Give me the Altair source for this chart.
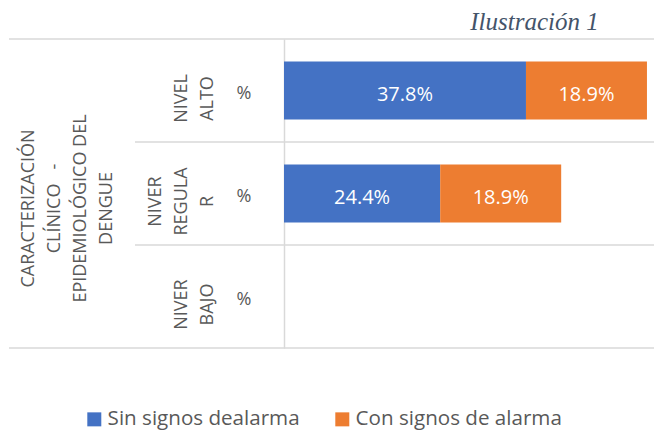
import altair as alt
import pandas as pd

# ---- data ----
levels = ["NIVEL ALTO", "NIVER REGULAR", "NIVER BAJO"]
level_lines = [["NIVEL", "ALTO"], ["NIVER", "REGULA", "R"], ["NIVER", "BAJO"]]
unit_label = "%"
series = ["Sin signos dealarma", "Con signos de alarma"]
sin_signos = [0.378, 0.244, None]
con_signos = [0.189, 0.189, None]
colors = ["#4472C4", "#ED7D31"]
group_lines = ["CARACTERIZACIÓN", "CLÍNICO\u00a0\u00a0\u00a0-", "EPIDEMIOLÓGICO DEL", "DENGUE"]
title_text = "Ilustración 1"

rows = []
for i, lv in enumerate(levels):
    for j, (s, vals) in enumerate(zip(series, [sin_signos, con_signos])):
        if vals[i] is not None:
            rows.append({"level": lv, "serie": s, "order": j, "value": vals[i]})
bars_df = pd.DataFrame(rows)

# lines of each category label are stacked so that the last line is aligned
max_lines = max(len(l) for l in level_lines)
labels_df = pd.DataFrame({
    "level": levels,
    "label": ["\n" * (max_lines - len(l)) + "\n".join(l) for l in level_lines],
    "unit": [unit_label] * len(levels),
})
group_df = pd.DataFrame({"level": [levels[1]], "label": ["\n".join(group_lines)]})
edge_top = pd.DataFrame({"level": [levels[0]]})
edge_bottom = pd.DataFrame({"level": [levels[-1]]})
seps = pd.DataFrame({"level": levels[1:]})

GRID = "#D9D9D9"
TXT = "#595959"
FONT = "Open Sans"

yscale = alt.Scale(domain=levels, paddingInner=0, paddingOuter=0)
yaxis = alt.Axis(title=None, labels=False, ticks=False, grid=False, domain=True,
                 domainColor=GRID, domainWidth=1.5)
xscale = alt.Scale(domain=[0, 0.578])


def Y(band=None):
    if band is None:
        return alt.Y("level:N", scale=yscale, axis=yaxis)
    return alt.Y("level:N", scale=yscale, axis=yaxis, bandPosition=band)


rule_top = alt.Chart(edge_top).mark_rule(color=GRID, strokeWidth=1.5).encode(
    y=Y(0), x=alt.value(-275), x2=alt.value(370))
rule_bottom = alt.Chart(edge_bottom).mark_rule(color=GRID, strokeWidth=1.5).encode(
    y=Y(1), x=alt.value(-275), x2=alt.value(370))
rule_seps = alt.Chart(seps).mark_rule(color=GRID, strokeWidth=1.5).encode(
    y=Y(0), x=alt.value(-149), x2=alt.value(370))

bars = alt.Chart(bars_df).mark_bar(height={"band": 0.563}).encode(
    y=Y(),
    x=alt.X("value:Q", stack="zero", scale=xscale, axis=None),
    color=alt.Color("serie:N", scale=alt.Scale(domain=series, range=colors),
                    legend=alt.Legend(title=None, orient="none", legendX=-200, legendY=370,
                                      direction="horizontal", symbolType="square",
                                      symbolSize=196, symbolStrokeWidth=0,
                                      labelFont=FONT, labelFontSize=20.6, labelColor=TXT,
                                      labelOffset=3, columnPadding=32, labelLimit=400)),
    order=alt.Order("order:Q"),
)

bar_text = alt.Chart(bars_df).transform_stack(
    stack="value", groupby=["level"], as_=["x0", "x1"], sort=[alt.SortField("order")]
).transform_calculate(mid="(datum.x0 + datum.x1) / 2").mark_text(
    color="white", font=FONT, fontSize=20, baseline="middle", align="center", dy=4
).encode(
    y=Y(),
    x=alt.X("mid:Q", scale=xscale, axis=None),
    text=alt.Text("value:Q", format=".1%"),
)

level_text = alt.Chart(labels_df).mark_text(
    font=FONT, fontSize=18, color=TXT, angle=270, align="center", baseline="bottom",
    lineBreak="\n", lineHeight=26, dx=-8
).encode(y=Y(), x=alt.value(-119), text="label:N")

unit_text = alt.Chart(labels_df).mark_text(
    font=FONT, fontSize=18, color=TXT, align="center", baseline="middle", dy=3
).encode(y=Y(), x=alt.value(-40), text="unit:N")

group_text = alt.Chart(group_df).mark_text(
    font=FONT, fontSize=18, color=TXT, angle=270, align="center", baseline="bottom",
    lineBreak="\n", lineHeight=26, dx=-15
).encode(y=Y(), x=alt.value(-246), text="label:N")

chart = alt.layer(
    rule_top, rule_bottom, rule_seps, bars, bar_text, level_text, unit_text, group_text
).properties(
    width=370,
    height=309,
    padding={"left": 276, "top": 31, "right": 0, "bottom": 82},
    autosize=alt.AutoSizeParams(type="none"),
    title=alt.TitleParams(title_text, anchor="end", font="Liberation Serif", fontStyle="italic",
                          fontSize=25, fontWeight="normal", color="#44546A", dx=-56, offset=3),
).configure_view(stroke=None)

chart.save("out.html", embed_options={"renderer": "svg", "actions": False})
